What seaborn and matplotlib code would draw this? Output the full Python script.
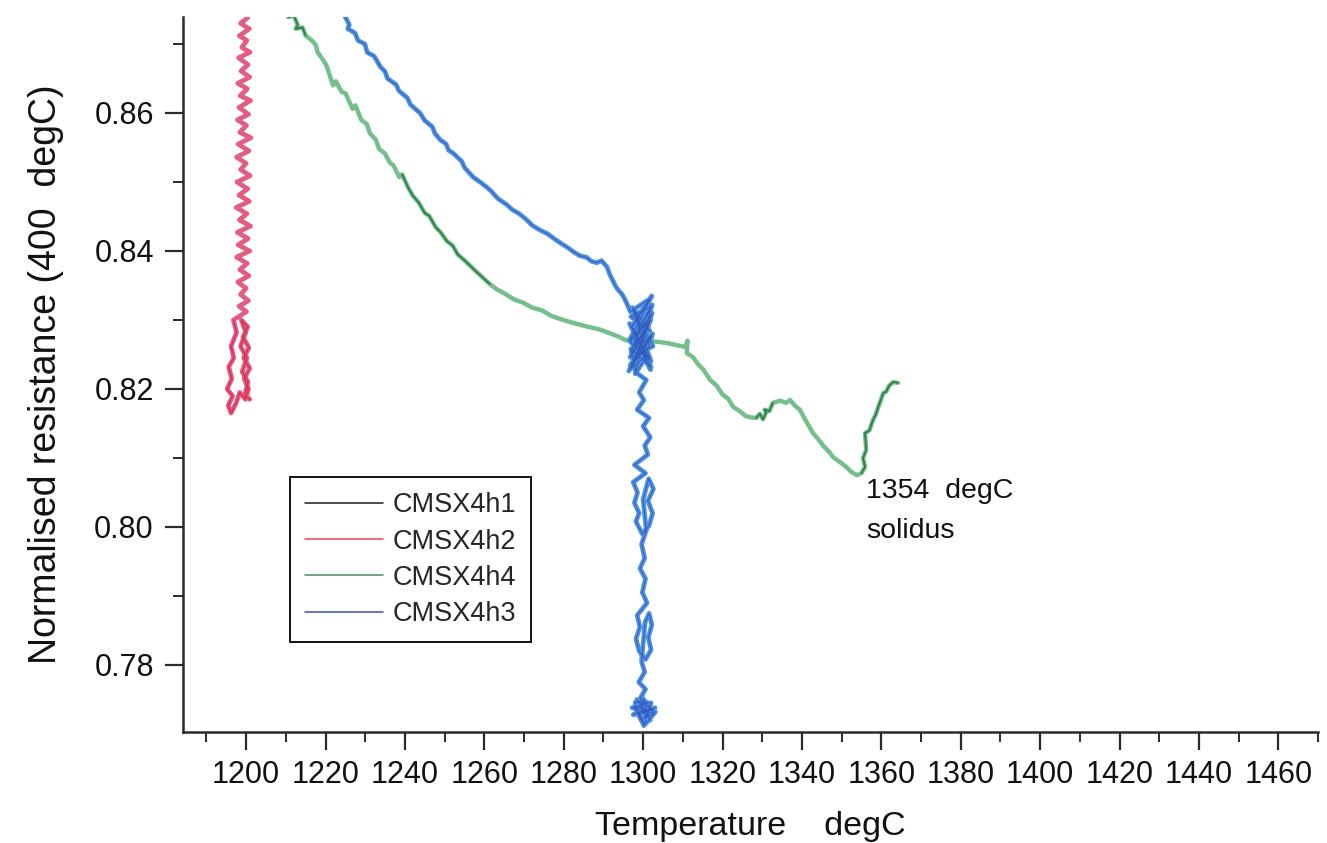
import matplotlib
matplotlib.use("Agg")
import matplotlib.pyplot as plt
from matplotlib.lines import Line2D
from matplotlib.ticker import MultipleLocator, FormatStrFormatter
import numpy as np
import pandas as pd
import seaborn as sns

# ---- series names in legend order ----
series_names = ["CMSX4h1", "CMSX4h2", "CMSX4h4", "CMSX4h3"]
legend_colors = ["#1a1a1a", "#e4474f", "#4d8c5e", "#3a4fae"]

# ---- CMSX4h2: hold near 1200 degC ----
h2_temp = [1199.6, 1200.4, 1198.6, 1200.8, 1198.3, 1200.2, 1198.9, 1201.0, 1198.1, 1200.5,
           1198.7, 1200.9, 1197.9, 1200.3, 1198.5, 1201.1, 1198.2, 1200.6, 1197.8, 1200.1,
           1198.4, 1201.2, 1198.0, 1200.7, 1197.6, 1200.0, 1198.6, 1201.0, 1197.7, 1200.4,
           1198.2, 1200.8, 1197.5, 1200.2, 1198.3, 1201.1, 1197.8, 1200.5, 1198.0, 1200.9,
           1197.6, 1200.3, 1198.4, 1200.7, 1197.9, 1200.0, 1198.6, 1200.6, 1198.2, 1200.1,
           1196.8, 1197.6, 1196.2, 1196.9, 1195.6, 1196.4, 1195.2, 1196.6, 1195.5, 1196.2,
           1197.5, 1198.4, 1199.8, 1200.6, 1199.5, 1200.9, 1199.4, 1200.7, 1199.2, 1200.4,
           1198.8, 1199.9, 1198.6, 1200.2, 1199.0, 1200.5, 1199.7, 1200.9]
h2_res = [0.8745, 0.8738, 0.8730, 0.8722, 0.8712, 0.8705, 0.8695, 0.8688, 0.8680, 0.8670,
          0.8661, 0.8652, 0.8643, 0.8635, 0.8625, 0.8618, 0.8608, 0.8598, 0.8590, 0.8582,
          0.8572, 0.8564, 0.8555, 0.8545, 0.8536, 0.8527, 0.8518, 0.8509, 0.8500, 0.8490,
          0.8481, 0.8472, 0.8463, 0.8454, 0.8445, 0.8436, 0.8427, 0.8418, 0.8409, 0.8400,
          0.8391, 0.8382, 0.8373, 0.8364, 0.8355, 0.8346, 0.8337, 0.8328, 0.8320, 0.8312,
          0.8300, 0.8282, 0.8262, 0.8245, 0.8232, 0.8215, 0.8200, 0.8190, 0.8176, 0.8165,
          0.8180, 0.8195, 0.8185, 0.8200, 0.8215, 0.8230, 0.8245, 0.8260, 0.8275, 0.8290,
          0.8300, 0.8282, 0.8262, 0.8245, 0.8225, 0.8210, 0.8192, 0.8185]

# ---- CMSX4h4: heating run through the solidus ----
h4_temp = [1210.6, 1212.0, 1213.0, 1212.5, 1214.2, 1215.0, 1216.4, 1217.6, 1218.0, 1219.5,
           1220.3, 1221.9, 1222.6, 1224.0, 1225.1, 1226.8, 1227.5, 1229.0, 1230.4, 1231.2,
           1232.6, 1233.5, 1235.0, 1236.2, 1237.1, 1238.6, 1239.3, 1240.8, 1242.0, 1243.5,
           1245.0, 1246.1, 1247.8, 1249.0, 1250.6, 1252.0, 1253.3, 1254.7, 1256.2, 1257.8,
           1259.5, 1261.4, 1263.0, 1265.2, 1267.4, 1269.8, 1272.0, 1274.5, 1276.9, 1278.3,
           1281.0, 1283.6, 1286.2, 1289.2, 1291.5, 1293.8, 1295.5, 1298.0, 1300.5, 1302.7,
           1304.3, 1306.5, 1308.8, 1310.6, 1311.2, 1311.0, 1312.6, 1313.8, 1315.2, 1316.9,
           1318.5, 1320.0, 1321.4, 1322.7, 1324.3, 1325.8, 1326.9, 1328.5, 1329.4, 1330.2,
           1331.0, 1330.6, 1331.8, 1332.7, 1334.5, 1336.0, 1337.0, 1338.2, 1339.5, 1340.4,
           1341.6, 1342.8, 1344.0, 1345.5, 1347.0, 1347.9, 1349.6, 1351.0, 1352.4, 1353.9,
           1355.0, 1355.9, 1355.4, 1356.2, 1355.9, 1357.0, 1357.9, 1358.6, 1359.3, 1360.5,
           1361.2, 1362.0, 1363.0, 1364.2]
h4_res = [0.8739, 0.8741, 0.8728, 0.8722, 0.8724, 0.8712, 0.8706, 0.8698, 0.8688, 0.8676,
          0.8668, 0.8640, 0.8646, 0.8631, 0.8628, 0.8606, 0.8611, 0.8590, 0.8584, 0.8570,
          0.8562, 0.8548, 0.8541, 0.8528, 0.8524, 0.8507, 0.8511, 0.8492, 0.8480, 0.8470,
          0.8455, 0.8451, 0.8434, 0.8427, 0.8414, 0.8408, 0.8395, 0.8388, 0.8380, 0.8371,
          0.8362, 0.8352, 0.8345, 0.8338, 0.8330, 0.8325, 0.8318, 0.8314, 0.8306, 0.8303,
          0.8298, 0.8294, 0.8290, 0.8286, 0.8281, 0.8276, 0.8271, 0.8270, 0.8268, 0.8269,
          0.8268, 0.8266, 0.8263, 0.8261, 0.8270, 0.8252, 0.8246, 0.8236, 0.8228, 0.8213,
          0.8205, 0.8192, 0.8186, 0.8174, 0.8168, 0.8161, 0.8159, 0.8158, 0.8164, 0.8156,
          0.8166, 0.8170, 0.8168, 0.8180, 0.8183, 0.8180, 0.8184, 0.8176, 0.8170, 0.8160,
          0.8148, 0.8136, 0.8128, 0.8117, 0.8108, 0.8101, 0.8094, 0.8088, 0.8080, 0.8075,
          0.8078, 0.8087, 0.8100, 0.8112, 0.8136, 0.8140, 0.8155, 0.8163, 0.8175, 0.8194,
          0.8196, 0.8205, 0.8210, 0.8209]

# ---- CMSX4h3: heating then hold near 1300 degC ----
h3_temp = [1224.9, 1226.0, 1225.6, 1227.4, 1228.2, 1229.9, 1230.5, 1232.3, 1233.8, 1235.0,
           1235.6, 1237.8, 1238.5, 1240.6, 1241.4, 1243.8, 1245.0, 1246.9, 1247.6, 1248.9,
           1250.4, 1251.0, 1252.1, 1254.3, 1255.0, 1257.2, 1258.9, 1260.5, 1261.7, 1263.4,
           1265.7, 1267.0, 1268.8, 1270.5, 1272.1, 1274.1, 1275.9, 1277.8, 1279.6, 1281.0,
           1282.4, 1284.1, 1285.7, 1287.0, 1288.4, 1289.5, 1290.9, 1291.6, 1292.9, 1293.5,
           1294.6, 1295.5,
           1296.8, 1301.5, 1297.2, 1302.2, 1296.5, 1301.8, 1297.0, 1302.4, 1296.8, 1301.6,
           1297.4, 1302.0, 1296.6, 1301.9, 1297.8, 1302.3, 1297.1, 1301.2, 1298.0,
           1302.1, 1296.9, 1301.7, 1297.3, 1302.5, 1296.7, 1301.4, 1297.6, 1302.2, 1296.4,
           1301.9, 1297.0, 1302.3, 1296.8, 1301.5, 1297.5, 1302.0, 1296.9, 1298.2,
           1300.8, 1299.0, 1300.2, 1298.5, 1301.5, 1300.0, 1301.8, 1300.4, 1301.2, 1297.8,
           1300.6, 1297.5, 1298.6, 1297.8, 1299.0, 1298.2, 1299.8, 1301.5, 1302.4, 1301.2,
           1302.6, 1301.4, 1300.0, 1300.8, 1299.6, 1300.4, 1299.2, 1300.6, 1299.8, 1301.0,
           1298.5, 1299.2, 1298.2, 1299.0, 1300.6, 1302.0, 1301.3, 1302.2, 1301.5, 1300.5,
           1300.0, 1299.6, 1300.4, 1298.9, 1300.6, 1299.3,
           1300.0, 1297.2, 1302.8, 1299.5, 1298.0, 1302.0, 1300.3, 1299.0, 1303.0, 1297.5,
           1300.5, 1298.4, 1301.8, 1299.9, 1302.4, 1297.8, 1300.2, 1303.1, 1298.9, 1300.7]
h3_res = [0.8740, 0.8728, 0.8722, 0.8716, 0.8705, 0.8700, 0.8688, 0.8682, 0.8667, 0.8660,
          0.8650, 0.8641, 0.8632, 0.8622, 0.8612, 0.8600, 0.8589, 0.8580, 0.8570, 0.8561,
          0.8555, 0.8546, 0.8542, 0.8530, 0.8521, 0.8507, 0.8500, 0.8493, 0.8487, 0.8476,
          0.8467, 0.8460, 0.8454, 0.8446, 0.8437, 0.8430, 0.8425, 0.8417, 0.8410, 0.8405,
          0.8399, 0.8393, 0.8391, 0.8385, 0.8383, 0.8386, 0.8377, 0.8366, 0.8351, 0.8345,
          0.8338, 0.8329,
          0.8312, 0.8330, 0.8290, 0.8335, 0.8270, 0.8300, 0.8250, 0.8280, 0.8235, 0.8262,
          0.8315, 0.8240, 0.8295, 0.8228, 0.8272, 0.8310, 0.8230, 0.8250, 0.8222,
          0.8320, 0.8305, 0.8284, 0.8318, 0.8262, 0.8246, 0.8292, 0.8238, 0.8276, 0.8226,
          0.8300, 0.8256, 0.8322, 0.8268, 0.8244, 0.8288, 0.8232, 0.8258, 0.8224,
          0.8213, 0.8195, 0.8184, 0.8170, 0.8158, 0.8146, 0.8130, 0.8118, 0.8105, 0.8090,
          0.8078, 0.8065, 0.8050, 0.8035, 0.8020, 0.8008, 0.7990, 0.8002, 0.8020, 0.8038,
          0.8055, 0.8070, 0.8040, 0.7995, 0.7975, 0.7955, 0.7940, 0.7925, 0.7905, 0.7890,
          0.7872, 0.7855, 0.7838, 0.7820, 0.7808, 0.7822, 0.7840, 0.7858, 0.7875, 0.7862,
          0.7830, 0.7805, 0.7790, 0.7775, 0.7765, 0.7752,
          0.7742, 0.7738, 0.7730, 0.7722, 0.7746, 0.7745, 0.7715, 0.7728, 0.7738, 0.7728,
          0.7735, 0.7750, 0.7720, 0.7752, 0.7733, 0.7740, 0.7712, 0.7732, 0.7748, 0.7725]

x_ticks = list(range(1200, 1461, 20))
y_ticks = [0.78, 0.80, 0.82, 0.84, 0.86]
solidus_temp = 1354

# ---- long table for seaborn ----
frames = []
for name, t, r in [("CMSX4h2", h2_temp, h2_res),
                   ("CMSX4h4", h4_temp, h4_res),
                   ("CMSX4h3", h3_temp, h3_res)]:
    frames.append(pd.DataFrame({"Temperature": t, "Resistance": r, "series": name}))
df = pd.concat(frames, ignore_index=True)

sns.set_theme(style="ticks")
plt.rcParams["font.family"] = ["Liberation Sans", "DejaVu Sans"]

fig = plt.figure(figsize=(13.27, 8.43), dpi=100)
ax = fig.add_axes([183 / 1327, 1 - 732 / 843, (1318 - 183) / 1327, (732 - 17) / 843])

trace_palette = {"CMSX4h2": "#e35c82", "CMSX4h4": "#74bf8c", "CMSX4h3": "#4f92e2"}
trace_width = {"CMSX4h2": 3.4, "CMSX4h4": 3.2, "CMSX4h3": 3.4}

for name in ["CMSX4h2", "CMSX4h4", "CMSX4h3"]:
    sub = df[df["series"] == name]
    sns.lineplot(data=sub, x="Temperature", y="Resistance", color=trace_palette[name],
                 sort=False, estimator=None, lw=trace_width[name], ax=ax, legend=False)

# darker thin strokes on parts of the traces
h4 = df[df["series"] == "CMSX4h4"].reset_index(drop=True)
for lo, hi in [(0, 6), (26, 42), (77, 84), (100, len(h4))]:
    seg = h4.iloc[lo:hi]
    sns.lineplot(data=seg, x="Temperature", y="Resistance", color="#2f7a44",
                 sort=False, estimator=None, lw=1.2, ax=ax, legend=False)
h3 = df[df["series"] == "CMSX4h3"]
sns.lineplot(data=h3, x="Temperature", y="Resistance", color="#2a4cb2",
             sort=False, estimator=None, lw=0.7, alpha=0.75, ax=ax, legend=False)
h2 = df[df["series"] == "CMSX4h2"].reset_index(drop=True)
sns.lineplot(data=h2.iloc[50:], x="Temperature", y="Resistance", color="#d8304f",
             sort=False, estimator=None, lw=0.9, ax=ax, legend=False)

ax.set_xlim(1184.1, 1470.0)
ax.set_ylim(0.77029, 0.87391)
ax.xaxis.set_major_locator(plt.FixedLocator(x_ticks))
ax.xaxis.set_minor_locator(MultipleLocator(10))
ax.yaxis.set_major_locator(plt.FixedLocator(y_ticks))
ax.yaxis.set_minor_locator(MultipleLocator(0.01))
ax.yaxis.set_major_formatter(FormatStrFormatter("%.2f"))

for side in ["top", "right"]:
    ax.spines[side].set_visible(False)
for side in ["left", "bottom"]:
    ax.spines[side].set_color("#2a2a2a")
    ax.spines[side].set_linewidth(1.8)

ax.tick_params(axis="both", which="major", length=13, width=1.6, color="#2a2a2a",
               labelsize=22, labelcolor="#111111", direction="out")
ax.tick_params(axis="both", which="minor", length=7, width=1.4, color="#2a2a2a",
               direction="out")
ax.tick_params(axis="x", which="major", pad=7)
ax.tick_params(axis="y", which="major", pad=8)

ax.set_xlabel("Temperature    degC", fontsize=24.5, color="#111111", labelpad=15)
ax.set_ylabel("Normalised resistance (400  degC)", fontsize=27, color="#111111", labelpad=22)

ax.text(solidus_temp + 2.2, 0.8071, f"{solidus_temp}  degC\nsolidus", fontsize=20.5,
        color="#111111", ha="left", va="top", linespacing=1.7)

handles = [Line2D([], [], color=c, lw=1.1) for c in legend_colors]
leg = ax.legend(handles, series_names, loc="upper left", bbox_to_anchor=(0.094, 0.356),
                frameon=True, fancybox=False, framealpha=1.0, edgecolor="#111111",
                fontsize=19.5, handlelength=2.9, handletextpad=0.35, labelspacing=0.38,
                borderpad=0.55, borderaxespad=0.0)
leg.get_frame().set_linewidth(1.4)

fig.savefig("out.png", dpi=100, facecolor="white")
